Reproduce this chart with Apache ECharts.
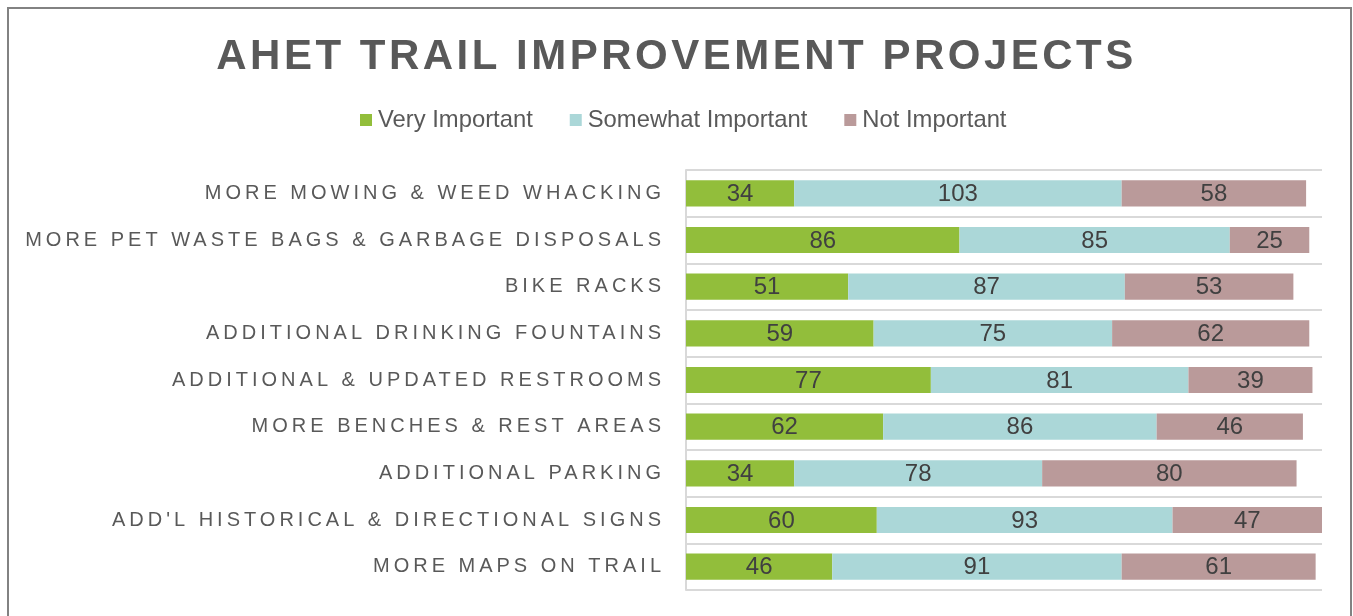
<!DOCTYPE html>
<html>
<head>
<meta charset="utf-8">
<style>
  html, body { margin: 0; padding: 0; background: #ffffff; }
  #chart { width: 1353px; height: 616px; }
</style>
<script src="https://cdn.jsdelivr.net/npm/echarts@6/dist/echarts.min.js"></script>
</head>
<body>
<div id="chart"></div>
<script>
// ---- Data ----
const categories = [
  "MORE MOWING & WEED WHACKING",
  "MORE PET WASTE BAGS & GARBAGE DISPOSALS",
  "BIKE RACKS",
  "ADDITIONAL DRINKING FOUNTAINS",
  "ADDITIONAL & UPDATED RESTROOMS",
  "MORE BENCHES & REST AREAS",
  "ADDITIONAL PARKING",
  "ADD'L HISTORICAL & DIRECTIONAL SIGNS",
  "MORE MAPS ON TRAIL"
];
const seriesNames = ["Very Important", "Somewhat Important", "Not Important"];
const veryImportant     = [34, 86, 51, 59, 77, 62, 34, 60, 46];
const somewhatImportant = [103, 85, 87, 75, 81, 86, 78, 93, 91];
const notImportant      = [58, 25, 53, 62, 39, 46, 80, 47, 61];
const chartTitle = "AHET TRAIL IMPROVEMENT PROJECTS";

// ---- Letter spacing for title and category labels (canvas letterSpacing) ----
(function () {
  const P = CanvasRenderingContext2D.prototype;
  if (!('letterSpacing' in P)) return;
  const spacingFor = function (f) {
    if (/(^|\s)42px(\s|$)/.test(f)) return '3.5px';
    if (/(^|\s)20px(\s|$)/.test(f)) return '4px';
    return '0px';
  };
  ['fillText', 'strokeText', 'measureText'].forEach(function (name) {
    const orig = P[name];
    P[name] = function () {
      const prev = this.letterSpacing;
      this.letterSpacing = spacingFor(this.font);
      const r = orig.apply(this, arguments);
      this.letterSpacing = prev;
      return r;
    };
  });
})();

const FONT = "'Liberation Sans', Arial, sans-serif";
const colors = ['#92be3b', '#abd7d8', '#ba9a9a'];
const values = [veryImportant, somewhatImportant, notImportant];

const chart = echarts.init(document.getElementById('chart'), null, { renderer: 'canvas' });
chart.setOption({
  animation: false,
  backgroundColor: '#ffffff',
  textStyle: { fontFamily: FONT },
  title: {
    text: chartTitle,
    left: 'center',
    top: 30,
    textStyle: { fontSize: 42, fontWeight: 'bold', color: '#595959', fontFamily: FONT }
  },
  legend: {
    data: seriesNames,
    left: 355,
    top: 103,
    itemWidth: 12,
    itemHeight: 12,
    itemGap: 37,
    icon: 'rect',
    textStyle: { fontSize: 23.8, color: '#595959', fontFamily: FONT, padding: [0, 0, 0, 1] }
  },
  grid: { left: 686, right: 31, top: 170, bottom: 26, containLabel: false },
  xAxis: { type: 'value', min: 0, max: 200, show: false },
  yAxis: {
    type: 'category',
    data: categories,
    inverse: true,
    axisLine: { show: true, lineStyle: { color: '#d9d9d9', width: 2 } },
    axisTick: { show: false },
    splitLine: { show: true, lineStyle: { color: '#d9d9d9', width: 2 } },
    axisLabel: { margin: 21, fontSize: 20, color: '#595959', fontFamily: FONT }
  },
  series: seriesNames.map(function (name, i) {
    return {
      name: name,
      type: 'bar',
      stack: 'total',
      barWidth: '56%',
      itemStyle: { color: colors[i] },
      label: {
        show: true,
        position: 'inside',
        fontSize: 24,
        color: '#404040',
        fontFamily: FONT,
        offset: [0, 1]
      },
      data: values[i]
    };
  }),
  graphic: [{
    type: 'rect',
    shape: { x: 8, y: 8, width: 1343, height: 640 },
    style: { fill: 'none', stroke: '#828282', lineWidth: 2 },
    silent: true,
    z: 100
  }]
});
</script>
</body>
</html>
